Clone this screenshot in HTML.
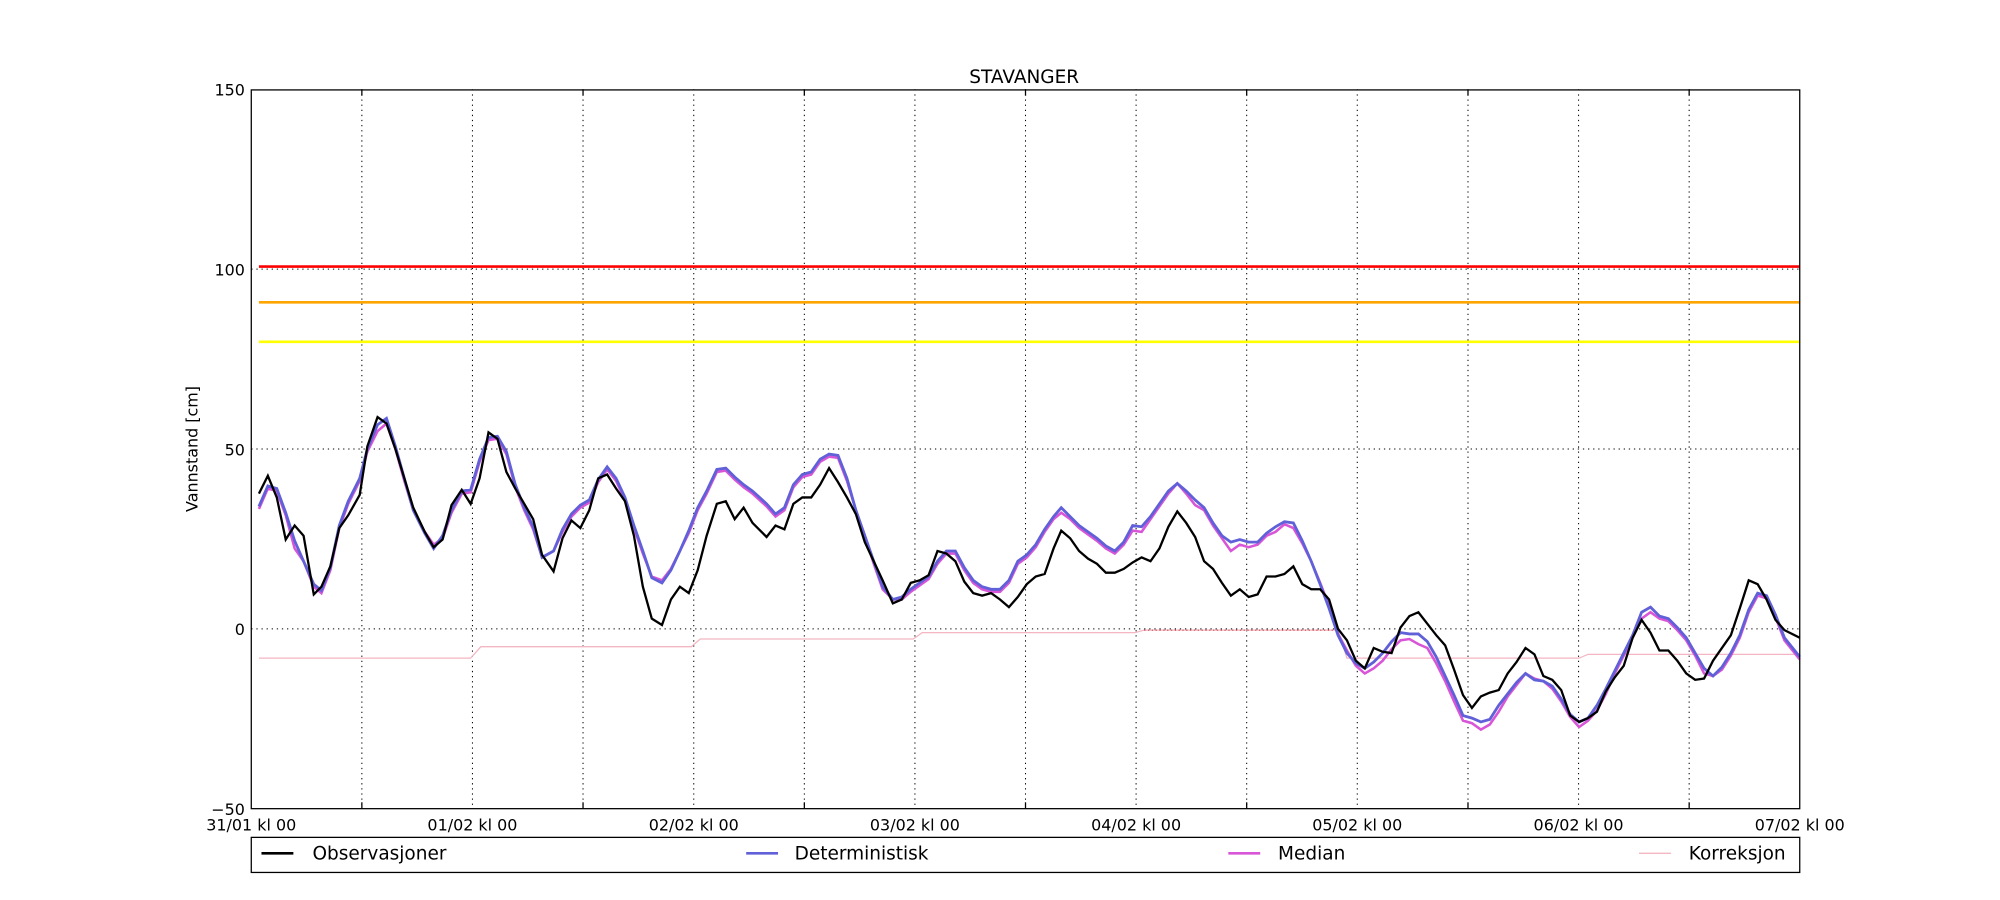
<!DOCTYPE html>
<html><head><meta charset="utf-8"><style>html,body{margin:0;padding:0;background:#fff}svg{display:block}</style></head>
<body>
<svg width="2000" height="900" viewBox="0 0 1568 705.6" preserveAspectRatio="none" xmlns="http://www.w3.org/2000/svg" font-family="'DejaVu Sans','Liberation Sans',sans-serif">
<rect width="1568" height="705.6" fill="#fff"/>
<g stroke="#000" stroke-width="0.8" stroke-dasharray="1,3" fill="none">
<line x1="283.7" y1="70" x2="283.7" y2="634"/><line x1="370.4" y1="70" x2="370.4" y2="634"/>
<line x1="457.1" y1="70" x2="457.1" y2="634"/><line x1="543.9" y1="70" x2="543.9" y2="634"/>
<line x1="630.6" y1="70" x2="630.6" y2="634"/><line x1="717.3" y1="70" x2="717.3" y2="634"/>
<line x1="804" y1="70" x2="804" y2="634"/><line x1="890.7" y1="70" x2="890.7" y2="634"/>
<line x1="977.4" y1="70" x2="977.4" y2="634"/><line x1="1064.1" y1="70" x2="1064.1" y2="634"/>
<line x1="1150.9" y1="70" x2="1150.9" y2="634"/><line x1="1237.6" y1="70" x2="1237.6" y2="634"/>
<line x1="1324.3" y1="70" x2="1324.3" y2="634"/>
<line x1="197" y1="211" x2="1411" y2="211"/><line x1="197" y1="352" x2="1411" y2="352"/><line x1="197" y1="493" x2="1411" y2="493"/>
</g>
<line x1="203" y1="209" x2="1411" y2="209" stroke="#f00" stroke-width="2"/>
<line x1="203" y1="237" x2="1411" y2="237" stroke="#ffa500" stroke-width="2"/>
<line x1="203" y1="268" x2="1411" y2="268" stroke="#ff0" stroke-width="2"/>
<polyline fill="none" stroke="#f4b6c2" stroke-width="1" points="203,516 369,516 377,507 542,507 549,501 716,501 723,496 890,496 897,494 1049,494 1056,516 1238,516 1245,513 1411,513"/>
<line x1="897" y1="494" x2="1049" y2="494" stroke="#c03030" stroke-width="0.8" stroke-dasharray="1,2"/>
<g transform="translate(0,2)">
<polyline fill="none" stroke="#d855d8" stroke-width="2" points="203,397 210,381 217,383 224,402 231,428 238,438 246,458 252,463 259,445 266,412 273,393 282,375 288,352 296,336 303,330 310,350 317,375 324,398 333,415 340,425 347,420 354,400 362,385 369,384 376,360 383,343 390,342 397,354 404,380 411,398 418,413 425,435 434,430 441,415 448,403 455,396 462,392 469,376 476,366 483,375 490,390 497,412 504,432 511,450 519,453 526,444 533,430 540,416 547,398 554,385 562,368 569,367 576,374 583,380 590,385 601,395 608,403 615,398 622,380 629,372 636,370 643,360 650,356 657,357 664,375 671,398 678,418 685,440 692,460 700,468 707,468 714,462 721,457 728,452 735,440 742,432 749,432 756,445 763,455 770,460 777,462 784,462 791,455 798,440 805,435 812,427 819,415 826,405 832,400 839,405 846,412 853,417 860,422 867,428 874,432 881,425 888,414 895,415 902,405 909,395 916,385 923,377 930,385 937,394 944,398 951,410 958,420 965,430 972,425 979,427 986,425 993,418 1000,415 1007,409 1014,412 1021,424 1028,438 1035,455 1042,473 1049,495 1056,508 1063,520 1070,526 1077,522 1084,516 1091,507 1098,500 1105,499 1112,503 1119,506 1126,518 1133,532 1140,548 1147,563 1154,565 1161,570 1168,566 1175,556 1182,544 1189,535 1196,526 1203,530 1210,532 1217,538 1224,548 1231,560 1238,568 1245,563 1252,555 1259,542 1266,526 1273,512 1280,498 1287,483 1294,478 1301,483 1308,485 1315,492 1322,500 1329,512 1336,526 1343,528 1350,523 1357,512 1364,498 1371,478 1378,465 1385,467 1392,482 1399,500 1411,515"/>
</g>
<polyline fill="none" stroke="#6060d8" stroke-width="2.2" points="203,397 210,381 217,383 224,402 231,424 238,440 246,458 252,463 259,445 266,412 273,393 282,375 288,352 296,333 303,328 310,350 317,375 324,400 333,418 340,430 347,420 354,400 362,385 369,384 376,360 383,343 390,342 397,354 404,380 411,398 418,413 425,437 434,432 441,415 448,403 455,396 462,392 469,376 476,366 483,375 490,390 497,412 504,432 511,453 519,457 526,447 533,432 540,416 547,398 554,385 562,368 569,367 576,374 583,380 590,385 601,395 608,403 615,398 622,380 629,372 636,370 643,360 650,356 657,357 664,375 671,400 678,420 685,440 692,460 700,470 707,468 714,462 721,457 728,452 735,440 742,432 749,432 756,445 763,455 770,460 777,462 784,462 791,455 798,440 805,435 812,427 819,415 826,405 832,398 839,405 846,412 853,417 860,422 867,428 874,432 881,425 888,412 895,413 902,405 909,395 916,385 923,379 930,385 937,392 944,398 951,410 958,420 965,425 972,423 979,425 986,425 993,418 1000,413 1007,409 1014,410 1021,424 1028,440 1035,458 1042,477 1049,498 1056,512 1063,520 1070,524 1077,519 1084,512 1091,503 1098,496 1105,497 1112,497 1119,503 1126,515 1133,530 1140,545 1147,561 1154,563 1161,566 1168,564 1175,553 1182,544 1189,535 1196,528 1203,533 1210,534 1217,538 1224,548 1231,560 1238,566 1245,563 1252,553 1259,540 1266,526 1273,512 1280,498 1287,480 1294,476 1301,483 1308,485 1315,492 1322,500 1329,512 1336,524 1343,530 1350,523 1357,512 1364,498 1371,478 1378,465 1385,467 1392,482 1399,500 1411,515"/>
<polyline fill="none" stroke="#000" stroke-width="1.8" points="203,387 210,373 217,390 224,423 231,412 238,420 246,466 252,460 259,444 266,414 273,404 282,388 288,350 296,327 303,332 310,352 317,375 324,398 333,417 340,429 347,423 354,396 362,384 369,395 376,375 383,339 390,344 397,370 404,383 411,395 418,407 425,435 434,448 441,422 448,408 455,414 462,400 469,375 476,372 483,383 490,393 497,420 504,460 511,485 519,490 526,470 533,460 540,465 547,447 554,420 562,395 569,393 576,407 583,398 590,410 601,421 608,412 615,415 622,395 629,390 636,390 643,380 650,367 657,378 664,390 671,403 678,425 685,440 692,455 700,473 707,470 714,457 721,455 728,451 735,432 742,434 749,440 756,456 763,465 770,467 777,465 784,470 791,476 798,468 805,458 812,452 819,450 826,430 832,416 839,422 846,432 853,438 860,442 867,449 874,449 881,446 888,441 895,437 902,440 909,430 916,413 923,401 930,410 937,421 944,440 951,446 958,457 965,467 972,462 979,468 986,466 993,452 1000,452 1007,450 1014,444 1021,458 1028,462 1035,462 1042,470 1049,493 1056,502 1063,518 1070,524 1077,508 1084,511 1091,512 1098,492 1105,483 1112,480 1119,489 1126,498 1133,506 1140,525 1147,545 1154,555 1161,546 1168,543 1175,541 1182,528 1189,519 1196,508 1203,513 1210,530 1217,533 1224,541 1231,561 1238,566 1245,563 1252,558 1259,542 1266,531 1273,522 1280,500 1287,486 1294,496 1301,510 1308,510 1315,518 1322,528 1329,533 1336,532 1343,518 1350,508 1357,498 1364,477 1371,455 1378,458 1385,470 1392,486 1399,494 1411,500"/>
<rect x="197" y="70.5" width="1214" height="563.5" fill="none" stroke="#000" stroke-width="1"/>
<g stroke="#000" stroke-width="1">
<line x1="283.7" y1="634" x2="283.7" y2="629"/><line x1="457.1" y1="634" x2="457.1" y2="629"/><line x1="630.6" y1="634" x2="630.6" y2="629"/><line x1="804" y1="634" x2="804" y2="629"/><line x1="977.4" y1="634" x2="977.4" y2="629"/><line x1="1150.9" y1="634" x2="1150.9" y2="629"/><line x1="1324.3" y1="634" x2="1324.3" y2="629"/>
<line x1="283.7" y1="70" x2="283.7" y2="75"/><line x1="457.1" y1="70" x2="457.1" y2="75"/><line x1="630.6" y1="70" x2="630.6" y2="75"/><line x1="804" y1="70" x2="804" y2="75"/><line x1="977.4" y1="70" x2="977.4" y2="75"/><line x1="1150.9" y1="70" x2="1150.9" y2="75"/><line x1="1324.3" y1="70" x2="1324.3" y2="75"/>
</g>
<g font-size="12.5" fill="#000">
<text x="803" y="65" text-anchor="middle" font-size="14.5">STAVANGER</text>
<g text-anchor="end">
<text x="192" y="75">150</text><text x="192" y="216">100</text><text x="192" y="357">50</text><text x="192" y="498">0</text><text x="192" y="639">−50</text>
</g>
<g text-anchor="middle">
<text x="197" y="651">31/01 kl 00</text><text x="370.4" y="651">01/02 kl 00</text><text x="543.9" y="651">02/02 kl 00</text><text x="717.3" y="651">03/02 kl 00</text><text x="890.7" y="651">04/02 kl 00</text><text x="1064.1" y="651">05/02 kl 00</text><text x="1237.6" y="651">06/02 kl 00</text><text x="1411" y="651">07/02 kl 00</text>
</g>
<text transform="translate(155,352) rotate(-90)" text-anchor="middle">Vannstand [cm]</text>
</g>
<rect x="197" y="656.5" width="1214" height="27.5" fill="#fff" stroke="#000" stroke-width="1"/>
<g font-size="14.5">
<line x1="205" y1="669" x2="230" y2="669" stroke="#000" stroke-width="2"/><text x="245" y="674">Observasjoner</text>
<line x1="585" y1="669" x2="610" y2="669" stroke="#6060d8" stroke-width="2"/><text x="623" y="674">Deterministisk</text>
<line x1="963" y1="669" x2="988" y2="669" stroke="#d855d8" stroke-width="2"/><text x="1002" y="674">Median</text>
<line x1="1285" y1="669" x2="1310" y2="669" stroke="#f4b6c2" stroke-width="1"/><text x="1324" y="674">Korreksjon</text>
</g>
</svg>
</body></html>
